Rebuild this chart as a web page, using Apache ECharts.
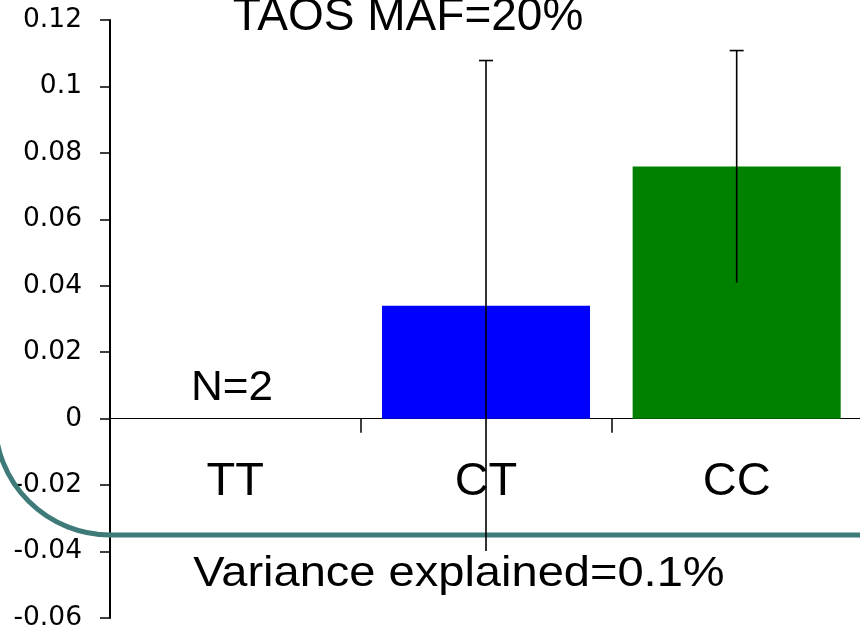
<!DOCTYPE html>
<html>
<head>
<meta charset="utf-8">
<script src="https://cdn.jsdelivr.net/npm/echarts@6/dist/echarts.min.js"></script>
<style>
  html, body { margin: 0; padding: 0; background: #ffffff; }
  #chart { width: 860px; height: 630px; }
</style>
</head>
<body>
<div id="chart"></div>
<script>
// Genotype groups and their mean effect with error bar half-widths
const genotypes = ['TT', 'CT', 'CC'];
const meanEffect = [0, 0.034, 0.0759];
const errorHalfWidth = [null, 0.0738, 0.0349];
const barColors = ['#0000ff', '#0000ff', '#008000'];

// Value axis range and step
const yMin = -0.06;
const yMax = 0.12;
const yStep = 0.02;

// Text drawn on the slide
const titleText = 'TAOS MAF=20%';
const countText = 'N=2';
const varianceText = 'Variance explained=0.1%';

const TEXT_FONT = '"Liberation Sans", Arial, Helvetica, sans-serif';
const RULE_COLOR = '#3d7a78';

// Plot area
const GRID = { left: 110, right: -2, top: 20, bottom: 12 };
const CHART_H = 630;
const plotHeight = CHART_H - GRID.top - GRID.bottom;
// lift the category axis from the bottom edge up to the zero line
const zeroLift = -plotHeight * (0 - yMin) / (yMax - yMin);

// Error bar records: [category index, lower end, upper end]
const errorData = [];
genotypes.forEach(function (g, i) {
  if (errorHalfWidth[i] != null) {
    errorData.push([i, meanEffect[i] - errorHalfWidth[i], meanEffect[i] + errorHalfWidth[i]]);
  }
});

const chart = echarts.init(document.getElementById('chart'), null, { renderer: 'canvas' });

chart.setOption({
  animation: false,
  backgroundColor: '#ffffff',
  grid: {
    left: GRID.left, right: GRID.right, top: GRID.top, bottom: GRID.bottom,
    containLabel: false,
    outerBoundsMode: 'none'
  },
  xAxis: {
    type: 'category',
    data: genotypes,
    position: 'bottom',
    offset: zeroLift,
    axisLine: { onZero: false, lineStyle: { color: '#000', width: 1 } },
    axisTick: { show: true, length: 14, lineStyle: { color: '#000', width: 1.5 } },
    axisLabel: {
      color: '#000',
      fontFamily: TEXT_FONT,
      fontSize: 47,
      margin: 40
    },
    splitLine: { show: false }
  },
  yAxis: {
    type: 'value',
    min: yMin,
    max: yMax,
    interval: yStep,
    axisLine: { show: true, lineStyle: { color: '#000', width: 2 } },
    axisTick: { show: true, length: 10, lineStyle: { color: '#000', width: 1.5 } },
    axisLabel: {
      color: '#000',
      fontFamily: '"DejaVu Sans", sans-serif',
      fontSize: 26.5,
      margin: 28
    },
    splitLine: { show: false }
  },
  series: [
    {
      type: 'bar',
      data: meanEffect.map(function (v, i) {
        return { value: v, itemStyle: { color: barColors[i] } };
      }),
      barWidth: '83%',
      z: 2
    },
    {
      type: 'custom',
      data: errorData,
      z: 4,
      renderItem: function (params, api) {
        const idx = api.value(0);
        const low = api.coord([idx, api.value(1)]);
        const high = api.coord([idx, api.value(2)]);
        const capHalf = 7;
        const lineStyle = { stroke: '#000', lineWidth: 1.6 };
        return {
          type: 'group',
          children: [
            { type: 'line', shape: { x1: high[0], y1: high[1], x2: low[0], y2: low[1] }, style: lineStyle },
            { type: 'line', shape: { x1: high[0] - capHalf, y1: high[1], x2: high[0] + capHalf, y2: high[1] }, style: lineStyle }
          ]
        };
      }
    }
  ],
  graphic: [
    {
      // slide decoration: rounded corner of the teal rule
      type: 'arc',
      z: 1,
      shape: { cx: 110, cy: 420, r: 115, startAngle: Math.PI / 2, endAngle: Math.PI, clockwise: true },
      style: { fill: null, stroke: RULE_COLOR, lineWidth: 5 }
    },
    {
      // straight part of the teal rule
      type: 'line',
      z: 1,
      shape: { x1: 109, y1: 535, x2: 870, y2: 535 },
      style: { stroke: RULE_COLOR, lineWidth: 5 }
    },
    {
      type: 'text',
      x: 408,
      y: 17,
      z: 5,
      style: {
        text: titleText,
        fill: '#000',
        font: '46px ' + TEXT_FONT,
        align: 'center',
        verticalAlign: 'middle'
      }
    },
    {
      type: 'text',
      x: 232,
      y: 388,
      z: 5,
      scaleX: 1.05,
      style: {
        text: countText,
        fill: '#000',
        font: '42px ' + TEXT_FONT,
        align: 'center',
        verticalAlign: 'middle'
      }
    },
    {
      type: 'text',
      x: 459,
      y: 574,
      z: 5,
      scaleX: 1.12,
      style: {
        text: varianceText,
        fill: '#000',
        font: '42px ' + TEXT_FONT,
        align: 'center',
        verticalAlign: 'middle'
      }
    }
  ]
});
</script>
</body>
</html>
